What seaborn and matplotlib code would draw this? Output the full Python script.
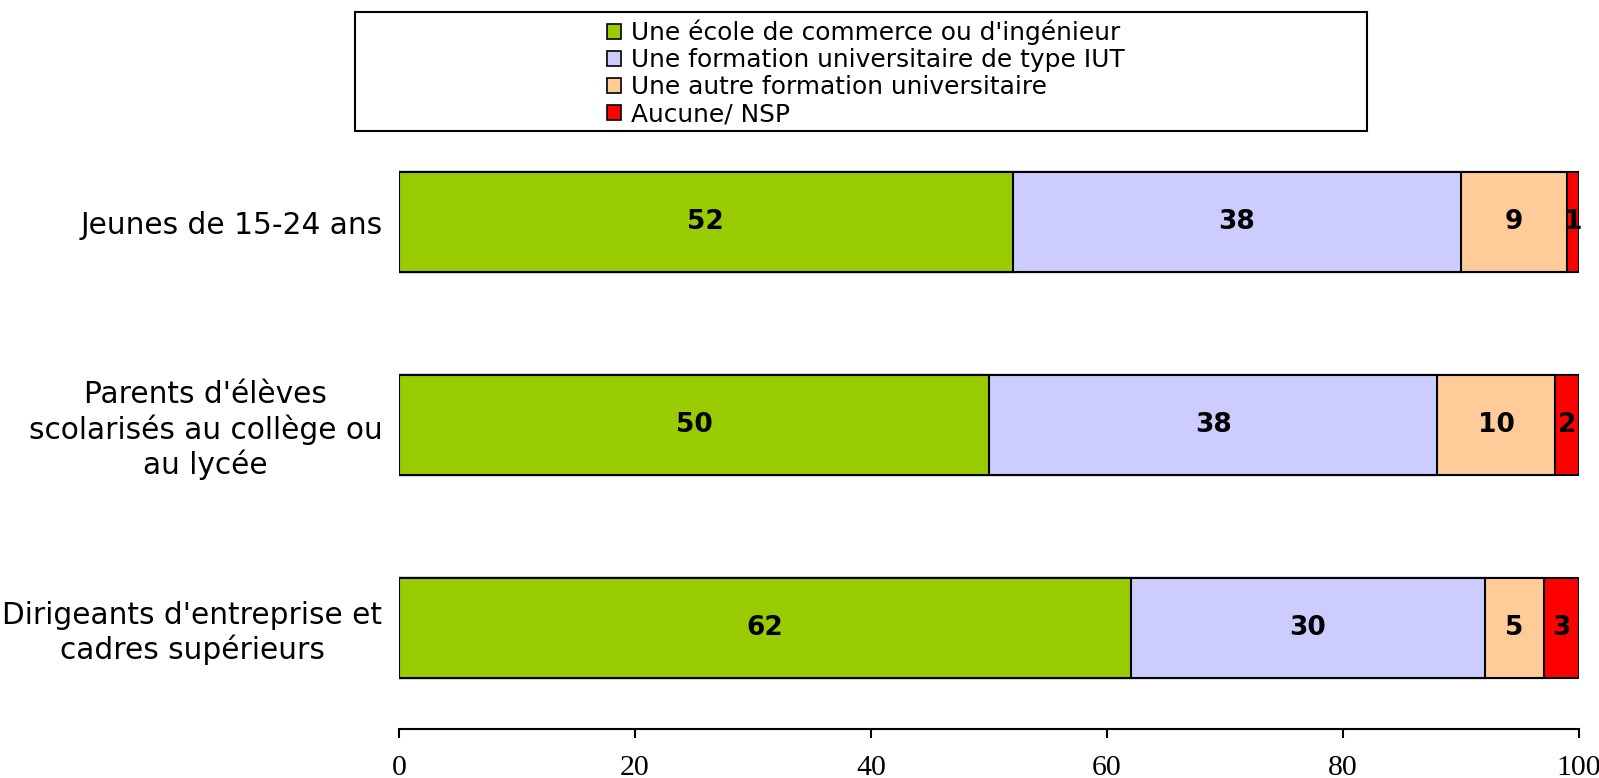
import matplotlib
matplotlib.use("Agg")
import matplotlib.pyplot as plt
from matplotlib.patches import Patch, Rectangle
import numpy as np
import pandas as pd
import seaborn as sns

# Data
groups = ["Jeunes de 15-24 ans",
          "Parents d'élèves\nscolarisés au collège ou\nau lycée",
          "Dirigeants d'entreprise et\ncadres supérieurs"]
series = ["Une école de commerce ou d'ingénieur",
          "Une formation universitaire de type IUT",
          "Une autre formation universitaire",
          "Aucune/ NSP"]
ecole = [52, 50, 62]
iut = [38, 38, 30]
autre = [9, 10, 5]
aucune = [1, 2, 3]
colors = ["#99CC00", "#CCCCFF", "#FFCC99", "#FF0000"]
xticks = [0, 20, 40, 60, 80, 100]

sns.set_style("white")
plt.rcParams["font.family"] = ["DejaVu Sans"]
plt.rcParams["text.color"] = "black"
plt.rcParams["xtick.color"] = "black"
plt.rcParams["ytick.color"] = "black"

values = np.array([ecole, iut, autre, aucune], dtype=float)
cum = values.cumsum(axis=0)
df = pd.DataFrame({"group": groups})

W, H = 1599, 778
fig = plt.figure(figsize=(W / 100, H / 100), dpi=100)
ax = fig.add_axes([399 / W, 1 - 729 / H, (1579 - 399) / W, (729 - 120.6) / H])

# stacked bars: draw cumulative totals from the back to the front
for i in range(len(series) - 1, -1, -1):
    df["v"] = cum[i]
    sns.barplot(data=df, x="v", y="group", orient="h", color=colors[i],
                edgecolor="black", linewidth=1.5, width=0.493, saturation=1,
                ax=ax)

for i in range(len(series)):
    for j in range(len(groups)):
        left = cum[i, j] - values[i, j]
        ax.text(left + values[i, j] / 2, j, f"{values[i, j]:g}",
                ha="center", va="center", fontsize=19, fontweight="bold",
                color="black")

ax.set_xlim(0, 100)
ax.set_ylim(2.5, -0.5)
ax.set_xlabel("")
ax.set_ylabel("")
ax.set_xticks(xticks)
ax.set_xticklabels([str(t) for t in xticks], fontfamily="Liberation Serif",
                   fontsize=21.5)
ax.tick_params(axis="x", direction="out", length=6.5, width=1.5, pad=12,
               bottom=True)
ax.tick_params(axis="y", length=0, pad=12)
for lab in ax.get_yticklabels():
    lab.set_fontsize(21.3)
    lab.set_multialignment("center")
for s in ["top", "right", "left"]:
    ax.spines[s].set_visible(False)
ax.spines["bottom"].set_linewidth(1.5)
ax.spines["bottom"].set_color("black")

# legend box
fig.patches.append(Rectangle((355 / W, 1 - 131 / H), (1367 - 355) / W,
                             (131 - 12) / H, transform=fig.transFigure,
                             facecolor="white", edgecolor="black",
                             linewidth=1.5))
handles = [Patch(facecolor=c, edgecolor="black", linewidth=1.2) for c in colors]
fig.legend(handles, series, loc="center",
           bbox_to_anchor=(866 / W, 1 - 73 / H), frameon=False,
           fontsize=17.9, handlelength=0.55, handleheight=0.55,
           handletextpad=0.4, labelspacing=0.12, borderpad=0)

fig.savefig("out.png", dpi=100)
plt.close(fig)
